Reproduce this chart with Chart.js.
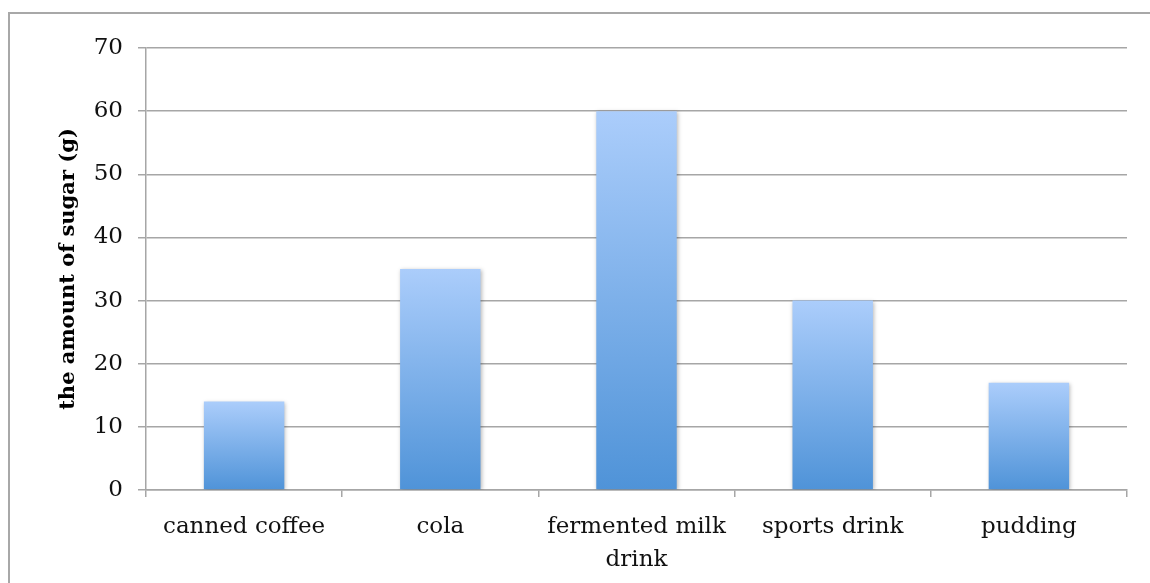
<!DOCTYPE html>
<html lang="en">
<head>
    <meta charset="UTF-8">
    <title>the amount of sugar</title>
    <style>
        html, body { margin: 0; padding: 0; background: #fff; overflow: hidden; }
        #wrap { position: relative; width: 1150px; height: 583px; overflow: hidden; background: #fff; }
        /* nur oben und links sichtbar, wie im Original */
        #frame { position: absolute; left: 8px; top: 12px; width: 1300px; height: 700px;
                 border-left: 2px solid #a8a8a8; border-top: 2px solid #a8a8a8; }
        #sugarChart { position: absolute; left: 0; top: 0; }
    </style>
    <script src="https://cdn.jsdelivr.net/npm/chart.js"></script>
</head>
<body>
    <div id="wrap">
        <div id="frame"></div>
        <canvas id="sugarChart" width="1150" height="583"></canvas>
    </div>
    <script>
    // Daten
    const categories = ['canned coffee', 'cola', ['fermented milk', 'drink'], 'sports drink', 'pudding'];
    const sugarGrams = [14, 35, 60, 30, 17];
    const yTicks = [0, 10, 20, 30, 40, 50, 60, 70];
    const yTitle = 'the amount of sugar (g)';

    const gridColor = '#a6a6a6';
    const fontFamily = '"DejaVu Serif", "Liberation Serif", serif';

    // Verlauf pro Balken: oben hell, unten dunkler
    function barGradient(c) {
        const chart = c.chart;
        if (!chart.chartArea || c.raw === undefined) return '#7aaee8';
        const y = chart.scales.y;
        const top = y.getPixelForValue(c.raw);
        const bottom = y.getPixelForValue(0);
        const g = chart.ctx.createLinearGradient(0, top, 0, bottom);
        g.addColorStop(0, '#abcdfb');
        g.addColorStop(1, '#4f93d8');
        return g;
    }

    // leichter Schatten hinter den Balken
    const barShadow = {
        id: 'barShadow',
        beforeDatasetsDraw(chart) {
            const ctx = chart.ctx;
            ctx.save();
            ctx.shadowColor = 'rgba(0,0,0,0.28)';
            ctx.shadowBlur = 4;
            ctx.shadowOffsetX = 1;
            ctx.shadowOffsetY = 1;
        },
        afterDatasetsDraw(chart) {
            chart.ctx.restore();
        }
    };

    const ctx = document.getElementById('sugarChart').getContext('2d');
    new Chart(ctx, {
        type: 'bar',
        data: {
            labels: categories,
            datasets: [{
                data: sugarGrams,
                backgroundColor: barGradient,
                borderWidth: 0,
                categoryPercentage: 1,
                barPercentage: 0.41
            }]
        },
        plugins: [barShadow],
        options: {
            responsive: false,
            animation: false,
            devicePixelRatio: 1,
            layout: { padding: { top: 48, right: 23, left: 0, bottom: 0 } },
            plugins: {
                legend: { display: false },
                tooltip: { enabled: false }
            },
            scales: {
                x: {
                    offset: true,
                    afterFit: scale => { scale.height = 93; },
                    grid: {
                        offset: true,
                        drawOnChartArea: false,
                        color: gridColor,
                        lineWidth: 1.5,
                        tickLength: 7
                    },
                    border: { color: gridColor, width: 1.5 },
                    ticks: {
                        color: '#111',
                        padding: 13,
                        maxRotation: 0,
                        autoSkip: false,
                        font: { family: fontFamily, size: 23, lineHeight: 1.45 }
                    }
                },
                y: {
                    min: 0,
                    max: 70,
                    afterFit: scale => { scale.width = 146; },
                    afterBuildTicks: scale => { scale.ticks = yTicks.map(v => ({ value: v })); },
                    grid: { color: gridColor, lineWidth: 1.5, tickLength: 8 },
                    border: { color: gridColor, width: 1.5 },
                    ticks: {
                        color: '#111',
                        padding: 15,
                        font: { family: fontFamily, size: 23 }
                    },
                    title: {
                        display: true,
                        text: yTitle,
                        color: '#000',
                        padding: { top: 56, bottom: 0 },
                        font: { family: fontFamily, size: 21, weight: 'bold' }
                    }
                }
            }
        }
    });
    </script>
</body>
</html>
